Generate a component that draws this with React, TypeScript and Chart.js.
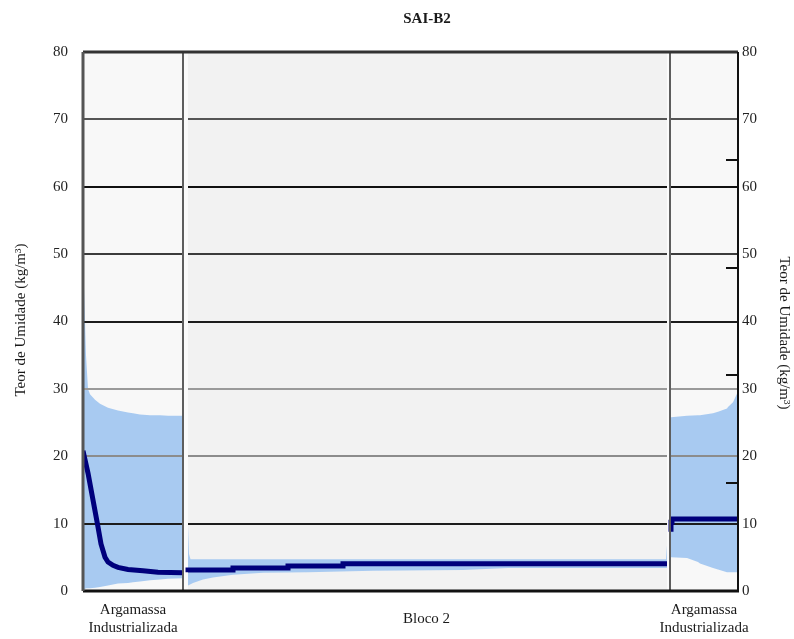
import React, { useEffect, useRef } from "react";
import { Chart, registerables } from "chart.js";

Chart.register(...registerables);

// Texts
const chartTitle = "SAI-B2";
const axisTitle = "Teor de Umidade (kg/m³)";
const sectionLabels: string[][] = [["Argamassa", "Industrializada"], ["Bloco 2"], ["Argamassa", "Industrializada"]];

// Y axis
const yTicks = [0, 10, 20, 30, 40, 50, 60, 70, 80];
const gridValues = [10, 20, 30, 40, 50, 60, 70];
const rightMarks = [16, 32, 48, 64];

// Wall layers along the thickness (x units)
const layerStart = [0, 21, 117.6];
const layerEnd = [20, 116.8, 131];
const labelFrom = [0, 20, 117.4];
const labelTo = [20, 117.4, 131];
const dividers = [20, 117.4];

// Left mortar layer: envelope and profile
const leftX = [0, 0.2, 0.4, 0.6, 1.0, 1.4, 2.4, 3.4, 5, 7, 9, 10, 11.4, 13.4, 15.4, 17, 20];
const leftMax = [49, 45, 40, 35, 30, 29.2, 28.4, 27.8, 27.2, 26.8, 26.5, 26.4, 26.2, 26.1, 26.1, 26.0, 26.0];
const leftMin = [0.3, 0.3, 0.3, 0.4, 0.4, 0.4, 0.5, 0.6, 0.8, 1.1, 1.2, 1.3, 1.4, 1.6, 1.7, 1.8, 1.9];
const leftLineX = [0, 1, 2, 3, 3.6, 4.4, 5, 6, 7, 9, 12, 15, 20];
const leftLine = [20.8, 17.5, 13.5, 9.5, 7, 5, 4.3, 3.8, 3.5, 3.2, 3.0, 2.8, 2.7];

// Block layer
const midX = [21, 21.2, 21.5, 22, 24, 26, 30, 36, 45, 58, 76, 85, 100, 116.6, 116.8];
const midMax = [9.8, 5.5, 4.7, 4.7, 4.7, 4.7, 4.7, 4.7, 4.7, 4.7, 4.7, 4.7, 4.7, 4.7, 6.8];
const midMin = [0.8, 0.9, 1.0, 1.2, 1.7, 2.0, 2.4, 2.7, 2.8, 3.0, 3.1, 3.4, 3.4, 3.4, 3.4];
const midLineX = [21, 30, 41, 52, 85, 116.8];
const midLine = [2.8, 3.1, 3.4, 3.7, 4.05, 4.05];

// Right mortar layer
const rightX = [117.6, 120.8, 123, 123.4, 126, 127, 128.8, 129, 130, 131];
const rightMax = [25.8, 26.0, 26.1, 26.1, 26.4, 26.6, 27.1, 27.3, 28, 29.6];
const rightMin = [5.0, 4.9, 4.3, 4.1, 3.4, 3.2, 2.8, 2.8, 2.8, 2.8];
const rightLineX = [117.6, 117.8, 121.8, 131];
const rightLine = [8.8, 10.2, 10.7, 10.7];

const SERIF = "'Liberation Serif', 'DejaVu Serif', serif";
const BAND = "#a8caf1";
const NAVY = "#00007c";
const GRID_COLORS = ["#1c1c1c", "#8c8c8c", "#9a9a9a", "#1c1c1c", "#3c3c3c", "#111111", "#555555"];
const LAYER_BG = ["#f8f8f8", "#f2f2f2", "#f8f8f8"];

const pts = (xs: number[], ys: number[]) => xs.map((x, i) => ({ x, y: ys[i] }));

const band = (xs: number[], ys: number[], fill: any) => ({
  data: pts(xs, ys),
  borderWidth: 0,
  borderColor: BAND,
  backgroundColor: BAND,
  pointRadius: 0,
  fill,
});

const profile = (xs: number[], ys: number[], stepped: any) => ({
  data: pts(xs, ys),
  borderWidth: 5,
  borderColor: NAVY,
  pointRadius: 0,
  fill: false,
  stepped,
});

const framePlugin = {
  id: "frame",
  beforeDraw(chart: any) {
    const { ctx, chartArea: a, scales } = chart;
    const x = scales.x;
    ctx.save();
    ctx.fillStyle = "#ffffff";
    ctx.fillRect(0, 0, chart.width, chart.height);
    ctx.fillStyle = "#fbfbfb";
    ctx.fillRect(a.left, a.top, a.right - a.left, a.bottom - a.top);
    layerStart.forEach((s, i) => {
      const x0 = x.getPixelForValue(s);
      const x1 = x.getPixelForValue(layerEnd[i]);
      ctx.fillStyle = LAYER_BG[i];
      ctx.fillRect(x0, a.top, x1 - x0, a.bottom - a.top);
    });
    ctx.restore();
  },
  beforeDatasetsDraw(chart: any) {
    const { ctx, scales } = chart;
    const x = scales.x;
    const y = scales.y;
    ctx.save();
    ctx.lineWidth = 2;
    gridValues.forEach((v, gi) => {
      const py = Math.round(y.getPixelForValue(v));
      ctx.strokeStyle = GRID_COLORS[gi];
      layerStart.forEach((s, i) => {
        ctx.beginPath();
        ctx.moveTo(x.getPixelForValue(s), py);
        ctx.lineTo(x.getPixelForValue(layerEnd[i]), py);
        ctx.stroke();
      });
    });
    ctx.restore();
  },
  afterDraw(chart: any) {
    const { ctx, chartArea: a, scales } = chart;
    const x = scales.x;
    const y = scales.y;
    ctx.save();
    // layer dividers
    ctx.strokeStyle = "#5e5e5e";
    ctx.lineWidth = 2;
    dividers.forEach((d) => {
      const px = Math.round(x.getPixelForValue(d));
      ctx.beginPath();
      ctx.moveTo(px, a.top);
      ctx.lineTo(px, a.bottom);
      ctx.stroke();
    });
    // frame
    ctx.lineWidth = 3;
    ctx.strokeStyle = "#333333";
    ctx.beginPath();
    ctx.moveTo(a.left, a.top);
    ctx.lineTo(a.right, a.top);
    ctx.stroke();
    ctx.strokeStyle = "#111111";
    ctx.beginPath();
    ctx.moveTo(a.left, a.bottom);
    ctx.lineTo(a.right + 1, a.bottom);
    ctx.stroke();
    ctx.strokeStyle = "#555555";
    ctx.beginPath();
    ctx.moveTo(a.left, a.top);
    ctx.lineTo(a.left, a.bottom);
    ctx.stroke();
    ctx.lineWidth = 2;
    ctx.strokeStyle = "#111111";
    ctx.beginPath();
    ctx.moveTo(a.right, a.top);
    ctx.lineTo(a.right, a.bottom);
    ctx.stroke();
    // inner marks on the right axis
    rightMarks.forEach((v) => {
      const py = Math.round(y.getPixelForValue(v));
      ctx.beginPath();
      ctx.moveTo(a.right - 12, py);
      ctx.lineTo(a.right, py);
      ctx.stroke();
    });
    // title
    ctx.fillStyle = "#1a1a1a";
    ctx.textAlign = "center";
    ctx.textBaseline = "middle";
    ctx.font = `bold 15px ${SERIF}`;
    ctx.fillText(chartTitle, 427, 19);
    // layer labels
    ctx.font = `15px ${SERIF}`;
    sectionLabels.forEach((lines, i) => {
      const cx = (x.getPixelForValue(labelFrom[i]) + x.getPixelForValue(labelTo[i])) / 2;
      const cy = a.bottom + 28;
      lines.forEach((t, j) => {
        ctx.fillText(t, cx, cy - (lines.length - 1) * 9 + j * 18);
      });
    });
    // axis titles
    ctx.font = `15px ${SERIF}`;
    ctx.save();
    ctx.translate(21, 320);
    ctx.rotate(-Math.PI / 2);
    ctx.fillText(axisTitle, 0, 0);
    ctx.restore();
    ctx.save();
    ctx.translate(784, 333);
    ctx.rotate(Math.PI / 2);
    ctx.fillText(axisTitle, 0, 0);
    ctx.restore();
    ctx.restore();
  },
};

export default function App() {
  const ref = useRef<HTMLCanvasElement | null>(null);

  useEffect(() => {
    if (!ref.current) return;
    const tickFont = { family: SERIF, size: 15 };
    const chart = new Chart(ref.current, {
      type: "line",
      data: {
        datasets: [
          band(leftX, leftMax, "+1"),
          band(leftX, leftMin, false),
          band(midX, midMax, "+1"),
          band(midX, midMin, false),
          band(rightX, rightMax, "+1"),
          band(rightX, rightMin, false),
          profile(leftLineX, leftLine, false),
          profile(midLineX, midLine, "after"),
          profile(rightLineX, rightLine, "after"),
        ] as any,
      },
      options: {
        responsive: false,
        animation: false,
        layout: { padding: { top: 52, bottom: 48, left: 0, right: 0 } },
        plugins: {
          legend: { display: false },
          tooltip: { enabled: false },
          filler: { drawTime: "beforeDatasetsDraw", propagate: false },
        } as any,
        scales: {
          x: { type: "linear", min: 0, max: 131, display: false },
          y: {
            type: "linear",
            position: "left",
            min: 0,
            max: 80,
            afterBuildTicks: (s: any) => {
              s.ticks = yTicks.map((v) => ({ value: v }));
            },
            afterFit: (s: any) => {
              s.width = 83;
            },
            grid: { display: false, drawTicks: false },
            border: { display: false },
            ticks: { font: tickFont, color: "#222222", padding: 15 },
          },
          y2: {
            type: "linear",
            position: "right",
            min: 0,
            max: 80,
            afterBuildTicks: (s: any) => {
              s.ticks = yTicks.map((v) => ({ value: v }));
            },
            afterFit: (s: any) => {
              s.width = 56;
            },
            grid: { display: false, drawTicks: false },
            border: { display: false },
            ticks: { font: tickFont, color: "#222222", padding: 4 },
          },
        },
      } as any,
      plugins: [framePlugin],
    });
    return () => chart.destroy();
  }, []);

  return (
    <div style={{ position: "fixed", left: 0, top: 0, width: 794, height: 639, background: "#fff" }}>
      <canvas ref={ref} width={794} height={639} style={{ display: "block" }} />
    </div>
  );
}
